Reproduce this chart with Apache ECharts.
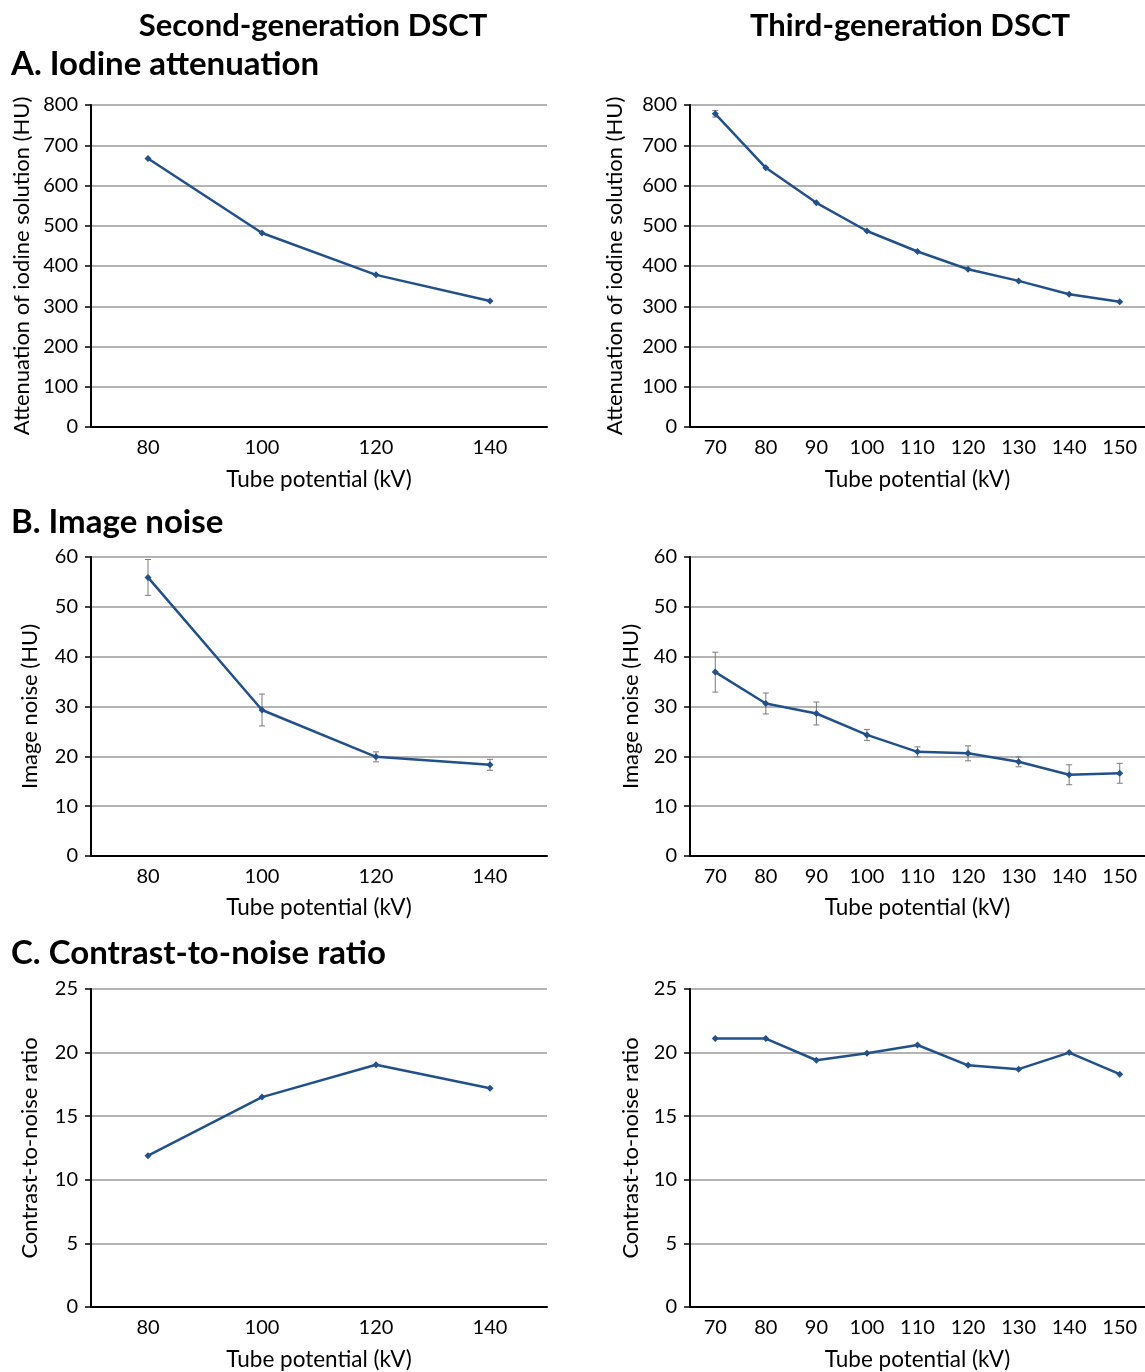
<!DOCTYPE html>
<html lang="en">
<head>
    <meta charset="UTF-8">
    <title>DSCT tube potential</title>
    <script type="text/javascript" src="https://cdn.jsdelivr.net/npm/echarts@6/dist/echarts.min.js"></script>
    <style>
        html, body { margin: 0; padding: 0; background: #fff; }
        #main { width: 1145px; height: 1372px; }
    </style>
</head>
<body>
<div id="main"></div>
<script>
    // categories (kV)
    var kvGen2 = ['80', '100', '120', '140'];
    var kvGen3 = ['70', '80', '90', '100', '110', '120', '130', '140', '150'];

    // A. iodine attenuation (HU)
    var attenGen2 = [667, 482, 378, 313];
    var attenGen3 = [778, 644, 557, 487, 436, 392, 363, 330, 311];
    var attenSdGen3 = [8, 0, 0, 0, 0, 0, 0, 0, 0];

    // B. image noise (HU) with SD
    var noiseGen2 = [55.9, 29.3, 19.9, 18.3];
    var noiseSdGen2 = [3.6, 3.2, 1.0, 1.1];
    var noiseGen3 = [36.9, 30.6, 28.6, 24.3, 20.9, 20.6, 18.9, 16.3, 16.6];
    var noiseSdGen3 = [4.0, 2.1, 2.3, 1.1, 1.0, 1.5, 1.0, 2.0, 2.0];

    // C. contrast-to-noise ratio
    var cnrGen2 = [11.9, 16.5, 19.05, 17.2];
    var cnrGen3 = [21.1, 21.1, 19.4, 19.95, 20.6, 19.0, 18.7, 20.0, 18.3];

    var FONT = 'Lato';
    var LINE = '#24508a';

    // panel layout: grid + y axis settings
    var panels = [
        {grid: {left: 91, top: 105, width: 456, height: 322}, cats: kvGen2, vals: attenGen2, sd: null,
            yMax: 800, yInt: 100, yName: 'Attenuation of iodine solution (HU)', yGap: 58, xGap: 41},
        {grid: {left: 690, top: 105, width: 455, height: 322}, cats: kvGen3, vals: attenGen3, sd: attenSdGen3,
            yMax: 800, yInt: 100, yName: 'Attenuation of iodine solution (HU)', yGap: 64, xGap: 41},
        {grid: {left: 91, top: 557, width: 456, height: 299}, cats: kvGen2, vals: noiseGen2, sd: noiseSdGen2,
            yMax: 60, yInt: 10, yName: 'Image noise (HU)', yGap: 50, xGap: 40},
        {grid: {left: 690, top: 557, width: 455, height: 299}, cats: kvGen3, vals: noiseGen3, sd: noiseSdGen3,
            yMax: 60, yInt: 10, yName: 'Image noise (HU)', yGap: 48, xGap: 40},
        {grid: {left: 91, top: 989, width: 456, height: 320}, cats: kvGen2, vals: cnrGen2, sd: null,
            yMax: 25, yInt: 5, yName: 'Contrast-to-noise ratio', yGap: 50, xGap: 41},
        {grid: {left: 690, top: 989, width: 455, height: 320}, cats: kvGen3, vals: cnrGen3, sd: null,
            yMax: 25, yInt: 5, yName: 'Contrast-to-noise ratio', yGap: 48, xGap: 41}
    ];

    var grids = [], xAxes = [], yAxes = [], series = [];

    for (var i = 0; i < panels.length; i++) {
        var p = panels[i];
        grids.push(p.grid);
        xAxes.push({
            type: 'category', gridIndex: i, data: p.cats, boundaryGap: true,
            name: 'Tube potential (kV)', nameLocation: 'middle', nameGap: p.xGap,
            nameTextStyle: {fontFamily: FONT, fontSize: 22.5, color: '#000'},
            axisLine: {lineStyle: {color: '#000', width: 2}},
            axisTick: {alignWithLabel: true, length: 6, lineStyle: {color: '#000', width: 1.5}},
            axisLabel: {fontFamily: FONT, fontSize: 20, color: '#000', margin: 11},
            splitLine: {show: false}
        });
        yAxes.push({
            type: 'value', gridIndex: i, min: 0, max: p.yMax, interval: p.yInt,
            name: p.yName, nameLocation: 'middle', nameGap: p.yGap, nameRotate: 90,
            nameTextStyle: {fontFamily: FONT, fontSize: 22, color: '#000'},
            axisLine: {show: true, lineStyle: {color: '#000', width: 2}},
            axisTick: {show: true, length: 6, lineStyle: {color: '#000', width: 1.5}},
            axisLabel: {fontFamily: FONT, fontSize: 20, color: '#000', margin: 13},
            splitLine: {show: true, lineStyle: {color: '#9a9a9a', width: 1.5}}
        });
        series.push({
            type: 'line', xAxisIndex: i, yAxisIndex: i, data: p.vals,
            symbol: 'diamond', symbolSize: 7, showSymbol: true,
            lineStyle: {color: LINE, width: 2.5},
            itemStyle: {color: LINE},
            animation: false, z: 3
        });
        if (p.sd) {
            var errData = [];
            for (var j = 0; j < p.vals.length; j++) {
                if (p.sd[j] > 0) errData.push([j, p.vals[j] - p.sd[j], p.vals[j] + p.sd[j]]);
            }
            series.push({
                type: 'custom', xAxisIndex: i, yAxisIndex: i, data: errData, z: 2,
                animation: false,
                renderItem: function (params, api) {
                    var lo = api.coord([api.value(0), api.value(1)]);
                    var hi = api.coord([api.value(0), api.value(2)]);
                    var c = 3;
                    var style = {stroke: '#7a7a7a', lineWidth: 1};
                    return {
                        type: 'group', children: [
                            {type: 'line', shape: {x1: lo[0], y1: lo[1], x2: hi[0], y2: hi[1]}, style: style},
                            {type: 'line', shape: {x1: lo[0] - c, y1: lo[1], x2: lo[0] + c, y2: lo[1]}, style: style},
                            {type: 'line', shape: {x1: hi[0] - c, y1: hi[1], x2: hi[0] + c, y2: hi[1]}, style: style}
                        ]
                    };
                }
            });
        }
    }

    var colStyle = {fontFamily: FONT, fontWeight: 'bold', fontSize: 31, color: '#000'};
    var secStyle = {fontFamily: FONT, fontWeight: 'bold', fontSize: 33, color: '#000'};
    var option = {
        backgroundColor: '#fff',
        animation: false,
        title: [
            {text: 'Second-generation DSCT', left: 308, top: 5, textAlign: 'center', textStyle: colStyle},
            {text: 'Third-generation DSCT', left: 905, top: 5, textAlign: 'center', textStyle: colStyle},
            {text: 'A. Iodine attenuation', left: 6, top: 43, textStyle: secStyle},
            {text: 'B. Image noise', left: 6, top: 501, textStyle: secStyle},
            {text: 'C. Contrast-to-noise ratio', left: 6, top: 932, textStyle: secStyle}
        ],
        grid: grids,
        xAxis: xAxes,
        yAxis: yAxes,
        series: series
    };

    var myChart = echarts.init(document.getElementById('main'));
    myChart.setOption(option);
</script>
</body>
</html>
